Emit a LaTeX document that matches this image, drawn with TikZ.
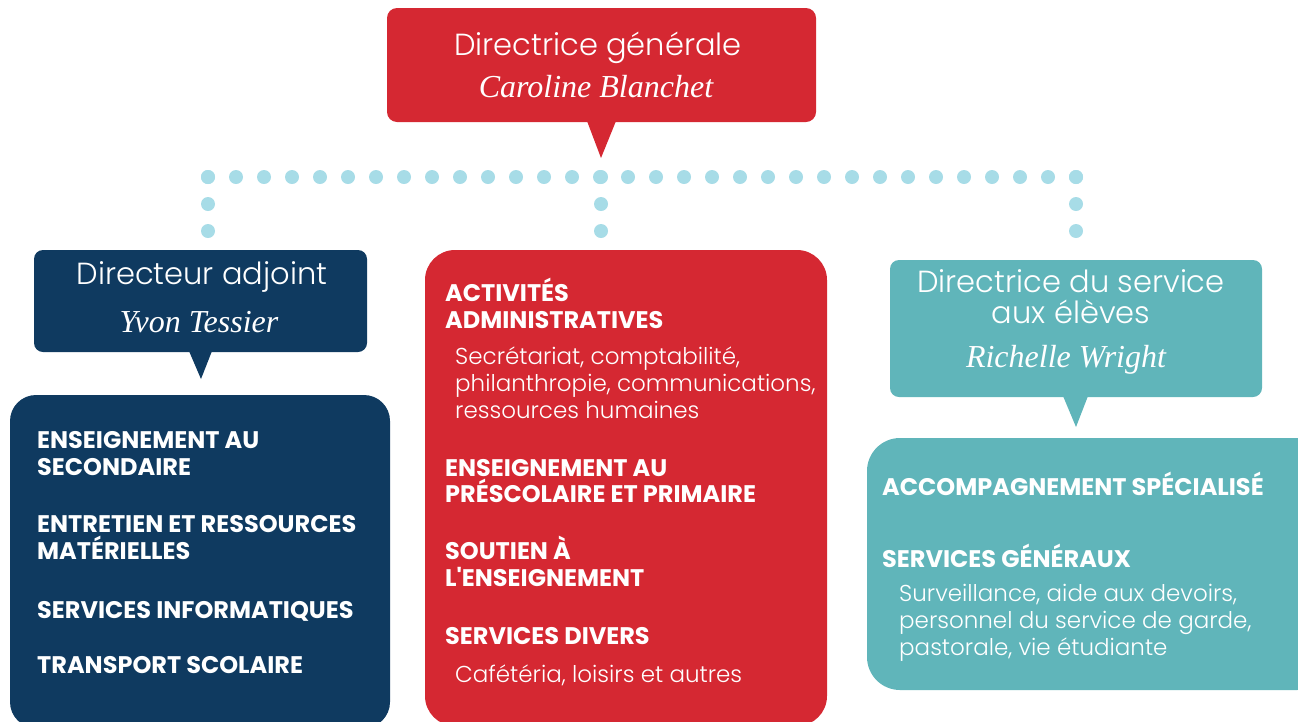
\documentclass[tikz,border=0pt]{standalone}
\usepackage{fontspec}
\setmainfont{Poppins}
\newfontfamily\lightfont{Poppins Light}
\newfontfamily\namefont{Liberation Serif}
\definecolor{orgred}{HTML}{D52832}
\definecolor{orgnavy}{HTML}{0F3A60}
\definecolor{orgteal}{HTML}{60B5BA}
\definecolor{orgdot}{HTML}{A7DCE7}
\tikzset{
  panel/.style={rectangle, inner sep=0pt, outer sep=0pt},
  dotline/.style={orgdot, line width=14pt, line cap=round, dash pattern=on 0pt off #1},
  titletext/.style={text=white, font=\lightfont\fontsize{30.5}{31}\selectfont, inner sep=0pt, anchor=base},
  nametext/.style={text=white, font=\namefont\itshape\fontsize{32}{34}\selectfont, inner sep=0pt, anchor=base},
  % multi-line blocks are anchored at the baseline of their last line
  headtext/.style={text=white, font=\bfseries\fontsize{24}{26.5}\selectfont, inner sep=0pt, anchor=base west, align=left},
  bodytext/.style={text=white, font=\lightfont\fontsize{23}{26.8}\selectfont, inner sep=0pt, anchor=base west, align=left},
}
\begin{document}
\begin{tikzpicture}[x=1pt, y=-1pt]
\useasboundingbox (0,0) rectangle (1298,721);
\begin{scope}
\clip (0,0) rectangle (1298,721);

% callouts
\node[panel, fill=orgred, rounded corners=10pt, minimum width=429pt, minimum height=114pt] (dg) at (601.5,65) {};
\fill[orgred] (587,121) -- (616,121) -- (601,158) -- cycle;
\node[panel, fill=orgnavy, rounded corners=9pt, minimum width=333pt, minimum height=102pt] (da) at (200.5,301) {};
\fill[orgnavy] (189,351) -- (212,351) -- (201,379) -- cycle;
\node[panel, fill=orgteal, rounded corners=9pt, minimum width=372pt, minimum height=137pt] (ds) at (1076,328.5) {};
\fill[orgteal] (1063,396) -- (1088,396) -- (1076,427) -- cycle;

% department panels
\node[panel, fill=orgnavy, rounded corners=26pt, minimum width=380pt, minimum height=333pt] (pl) at (200,561.5) {};
\node[panel, fill=orgred, rounded corners=30pt, minimum width=402pt, minimum height=476pt] (pm) at (626,488) {};
\node[panel, fill=orgteal, rounded corners=33pt, minimum width=463pt, minimum height=252pt] (pr) at (1098.5,564) {};

% dotted hierarchy lines
\coordinate (hubL) at (208,177);
\coordinate (hubM) at (601,177);
\coordinate (hubR) at (1076,177);
\coordinate (endL) at (208,231.5);
\coordinate (endM) at (601,231.5);
\coordinate (endR) at (1076,231.5);
\draw[dotline=28pt] (hubL) -- (hubR);
\draw[dotline=27pt] (hubL) -- (endL);
\draw[dotline=27pt] (hubM) -- (endM);
\draw[dotline=27pt] (hubR) -- (endR);
\end{scope}

% callout texts
\node[titletext] (dgt) at (598,55) {Directrice générale};
\node[nametext] (dgn) at (596,97) {Caroline Blanchet};
\node[titletext] (dat) at (202,284) {Directeur adjoint};
\node[nametext] (dan) at (199,332) {Yvon Tessier};
\node[titletext] (dst1) at (1071,292) {Directrice du service};
\node[titletext] (dst2) at (1071,323) {aux élèves};
\node[nametext] (dsn) at (1066,367) {Richelle Wright};

% left panel
\node[headtext] (l1) at (37,475) {ENSEIGNEMENT AU\\SECONDAIRE};
\node[headtext] (l2) at (37,559) {ENTRETIEN ET RESSOURCES\\MATÉRIELLES};
\node[headtext] (l3) at (37,618) {SERVICES INFORMATIQUES};
\node[headtext] (l4) at (37,673) {TRANSPORT SCOLAIRE};

% middle panel
\node[headtext] (m1) at (445,328) {ACTIVITÉS\\ADMINISTRATIVES};
\node[bodytext] (m1b) at (455,418.5) {Secrétariat, comptabilité,\\philanthropie, communications,\\ressources humaines};
\node[headtext] (m2) at (445,502.5) {ENSEIGNEMENT AU\\PRÉSCOLAIRE ET PRIMAIRE};
\node[headtext] (m3) at (445,586) {SOUTIEN À\\L\textquotesingle ENSEIGNEMENT};
\node[headtext] (m4) at (445,644) {SERVICES DIVERS};
\node[bodytext] (m4b) at (455,682) {Cafétéria, loisirs et autres};

% right panel
\node[headtext] (r1) at (882,495) {ACCOMPAGNEMENT SPÉCIALISÉ};
\node[headtext] (r2) at (882,567) {SERVICES GÉNÉRAUX};
\node[bodytext] (r2b) at (899,655.5) {Surveillance, aide aux devoirs,\\personnel du service de garde,\\pastorale, vie étudiante};
\end{tikzpicture}
\end{document}
